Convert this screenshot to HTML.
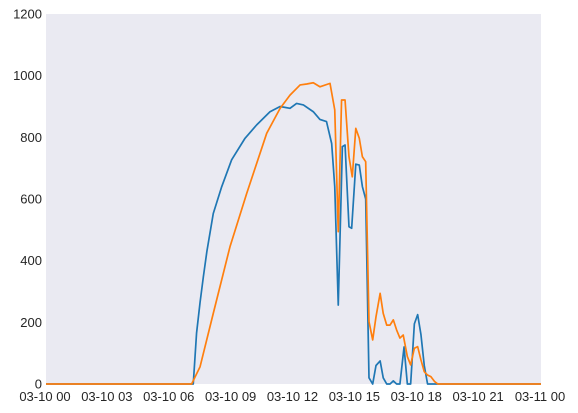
<!DOCTYPE html>
<html><head><meta charset="utf-8"><style>
body{margin:0;background:#fff;}
svg{display:block;font-family:"Liberation Sans",Arial,sans-serif;}
</style></head><body>
<svg id="chart" width="578" height="413">
<rect x="46" y="14" width="495" height="370" fill="#eaeaf2"/>
<g id="yticks"></g>
<g id="xticks"></g>
<g id="lines"></g>
</svg>
<script>
const yTicks=[0,200,400,600,800,1000,1200];
const xTickHours=[0,3,6,9,12,15,18,21,24];
const xTickLabels=["03-10 00","03-10 03","03-10 06","03-10 09","03-10 12","03-10 15","03-10 18","03-10 21","03-11 00"];
const blueHours=[0,7.0,7.14,7.3,7.47,7.63,7.8,8.11,8.52,9.0,9.65,10.21,10.86,11.35,11.83,12.15,12.48,12.96,13.28,13.6,13.85,14.0,14.17,14.37,14.5,14.69,14.82,15.02,15.19,15.34,15.5,15.66,15.84,16.0,16.2,16.35,16.52,16.68,16.84,17.0,17.16,17.36,17.52,17.68,17.86,18.02,18.18,18.34,18.5,24];
const blueValues=[0,0,0,165,265,348,430,553,640,727,797,840,883,900,894,910,905,883,858,851,780,640,256,770,775,510,505,713,710,640,600,20,0,60,75,20,0,0,10,0,0,120,0,0,195,225,160,60,0,0];
const orangeHours=[0,7.06,7.47,8.11,8.92,9.73,10.7,11.35,11.83,12.32,12.64,12.96,13.28,13.77,14.0,14.17,14.33,14.5,14.69,14.85,15.02,15.19,15.34,15.5,15.66,15.84,16.0,16.2,16.35,16.52,16.68,16.84,17.0,17.16,17.32,17.52,17.68,17.86,18.02,18.18,18.34,18.5,18.66,18.84,19.0,24];
const orangeValues=[0,0,56,229,445,618,813,894,937,970,973,977,964,975,889,494,921,921,737,672,829,797,737,721,202,143,218,294,229,191,191,208,175,149,159,89,62,116,121,78,40,29,24,8,0,0];
const x0=46,x1=541,y0=384,y1=14;
const xs=h=>x0+(x1-x0)*h/24;
const ys=v=>y0-(y0-y1)*v/1200;
const NS="http://www.w3.org/2000/svg";
const yg=document.getElementById('yticks');
yTicks.forEach(v=>{const t=document.createElementNS(NS,'text');
t.setAttribute('x',42);t.setAttribute('y',ys(v)+4.5);t.setAttribute('text-anchor','end');
t.setAttribute('font-size','13');t.setAttribute('fill','#262626');t.textContent=v;


yg.appendChild(t);});
const xg=document.getElementById('xticks');
xTickHours.forEach((h,i)=>{const t=document.createElementNS(NS,'text');
t.setAttribute('x',xs(h)-1);t.setAttribute('y',401);t.setAttribute('text-anchor','middle');
t.setAttribute('font-size','13');t.setAttribute('fill','#262626');t.textContent=xTickLabels[i];


xg.appendChild(t);});
const lg=document.getElementById('lines');
function drawLine(hs,vs,color,name){const p=document.createElementNS(NS,'polyline');
p.setAttribute('points',hs.map((h,i)=>xs(h).toFixed(2)+','+ys(vs[i]).toFixed(2)).join(' '));
p.setAttribute('fill','none');p.setAttribute('stroke',color);p.setAttribute('stroke-width','1.7');
p.setAttribute('stroke-linejoin','round');


lg.appendChild(p);}
drawLine(blueHours,blueValues,'#1f77b4','blue-series-line');
drawLine(orangeHours,orangeValues,'#ff7f0e','orange-series-line');
</script>
</body></html>
